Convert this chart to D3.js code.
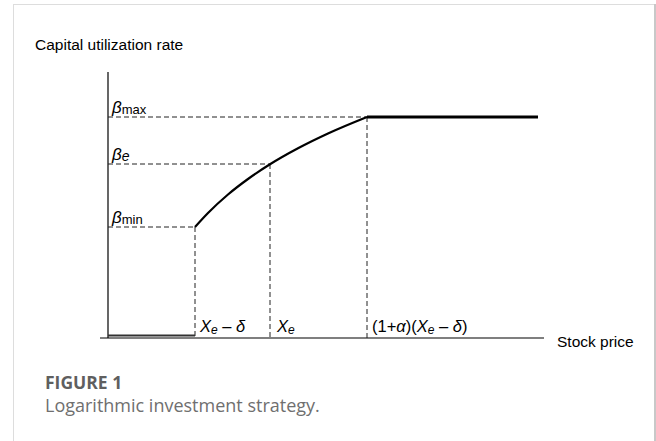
<!DOCTYPE html>
<html><head><meta charset="utf-8">
<script src="https://cdn.jsdelivr.net/npm/d3@7/dist/d3.min.js"></script>
<style>
html,body{margin:0;padding:0;background:#fff;}
svg{display:block;}
</style></head>
<body>
<svg id="c" width="656" height="441"></svg>
<script>
// Key x positions (abstract stock-price units) and levels (utilization units)
const xKeys = [0.87, 1.62, 2.59];          // Xe-δ, Xe, (1+α)(Xe-δ)
const xEnd = 4.30;                          // end of βmax plateau
const betaLevels = [1.11, 1.74, 2.21];      // βmin, βe, βmax
const betaNames = [["β","min"],["β","e"],["β","max"]];
// Logarithmic curve between Xe-δ and (1+α)(Xe-δ)
const curveX = [0.87, 1.0, 1.2, 1.4, 1.62, 1.9, 2.2, 2.59];
const curveY = [1.11, 1.25, 1.435, 1.59, 1.737, 1.897, 2.045, 2.21];
const xLabels = ["Xe-δ", "Xe", "(1+α)(Xe-δ)"];

const svg = d3.select("#c");
// card frame
svg.append("rect").attr("x",13.5).attr("y",4.5).attr("width",641).attr("height",460)
  .attr("fill","none").attr("stroke","#ddd").attr("stroke-width",1);
svg.append("line").attr("x1",655).attr("x2",655).attr("y1",4).attr("y2",441)
  .attr("stroke","#c8c8c8").attr("stroke-width",2);

const ox = 108, oy = 338;
const x = d3.scaleLinear().domain([0, 1]).range([ox, ox + 100]);
const y = d3.scaleLinear().domain([0, 1]).range([oy, oy - 100]);

const g = svg.append("g");
// axes
g.append("line").attr("x1", ox).attr("x2", ox).attr("y1", 72).attr("y2", oy)
  .attr("stroke","#000").attr("stroke-width",1.2);
g.append("line").attr("x1", 100).attr("x2", 544).attr("y1", oy).attr("y2", oy)
  .attr("stroke","#000").attr("stroke-width",1.2);

// dashed guides
const dash = "5,3";
betaLevels.forEach((b,i)=>{
  g.append("line").attr("x1", x(0)).attr("x2", x(xKeys[i])).attr("y1", y(b)).attr("y2", y(b))
    .attr("stroke","#222").attr("stroke-width",1).attr("stroke-dasharray",dash);
  g.append("line").attr("x1", x(xKeys[i])).attr("x2", x(xKeys[i])).attr("y1", y(b)).attr("y2", oy)
    .attr("stroke","#222").attr("stroke-width",1).attr("stroke-dasharray",dash);
});

// zero segment
g.append("line").attr("x1", x(0)).attr("x2", x(xKeys[0])).attr("y1", y(0)-2.5).attr("y2", y(0)-2.5)
  .attr("stroke","#333").attr("stroke-width",2);
// plateau
g.append("line").attr("x1", x(xKeys[2])).attr("x2", x(xEnd)).attr("y1", y(betaLevels[2])).attr("y2", y(betaLevels[2]))
  .attr("stroke","#000").attr("stroke-width",3);
// log curve
const pts = curveX.map((v,i)=>[v, curveY[i]]);
g.append("path").attr("d", d3.line().x(d=>x(d[0])).y(d=>y(d[1])).curve(d3.curveMonotoneX)(pts))
  .attr("fill","none").attr("stroke","#000").attr("stroke-width",2.2);

// beta labels
const ff = "Liberation Sans, Arial, sans-serif";
betaLevels.forEach((b,i)=>{
  const t = g.append("text").attr("x", ox + 4).attr("y", y(b) - 4)
    .attr("font-family", ff).attr("font-size", 17).attr("fill","#000");
  t.append("tspan").attr("font-style","italic").text(betaNames[i][0]);
  t.append("tspan").attr("font-size", i===1 ? 14 : 13).attr("font-style", i===1 ? "italic" : "normal")
    .attr("dy", 1).text(betaNames[i][1]);
});

// x labels
function xe(t){
  t.append("tspan").attr("font-style","italic").text("X");
  t.append("tspan").attr("font-style","italic").attr("font-size",12).attr("dy",2).text("e");
}
let t0 = g.append("text").attr("x", x(xKeys[0]) + 5).attr("y", oy - 6)
  .attr("font-family", ff).attr("font-size", 16.5);
xe(t0); t0.append("tspan").attr("dy",-2).text(" – "); t0.append("tspan").attr("font-style","italic").text("δ");
let t1 = g.append("text").attr("x", x(xKeys[1]) + 7).attr("y", oy - 6)
  .attr("font-family", ff).attr("font-size", 16.5);
xe(t1);
let t2 = g.append("text").attr("x", x(xKeys[2]) + 5).attr("y", oy - 6)
  .attr("font-family", ff).attr("font-size", 16.5);
t2.append("tspan").text("(1+"); t2.append("tspan").attr("font-style","italic").text("α");
t2.append("tspan").text(")("); xe(t2);
t2.append("tspan").attr("dy",-2).text(" – "); t2.append("tspan").attr("font-style","italic").text("δ");
t2.append("tspan").text(")");

// axis titles
g.append("text").attr("x", 35).attr("y", 50).attr("font-family", ff).attr("font-size", 15.5).text("Capital utilization rate");
g.append("text").attr("x", 557).attr("y", 347).attr("font-family", ff).attr("font-size", 15.5).text("Stock price");

// caption
svg.append("text").attr("x", 45).attr("y", 389).attr("font-family","Open Sans, sans-serif")
  .attr("font-weight",700).attr("font-size",17.5).attr("fill","#5f5f5f").text("FIGURE 1");
svg.append("text").attr("x", 45).attr("y", 412).attr("font-family","Open Sans, sans-serif")
  .attr("font-size",18).attr("fill","#6f6f6f").text("Logarithmic investment strategy.");
</script>
</body></html>
